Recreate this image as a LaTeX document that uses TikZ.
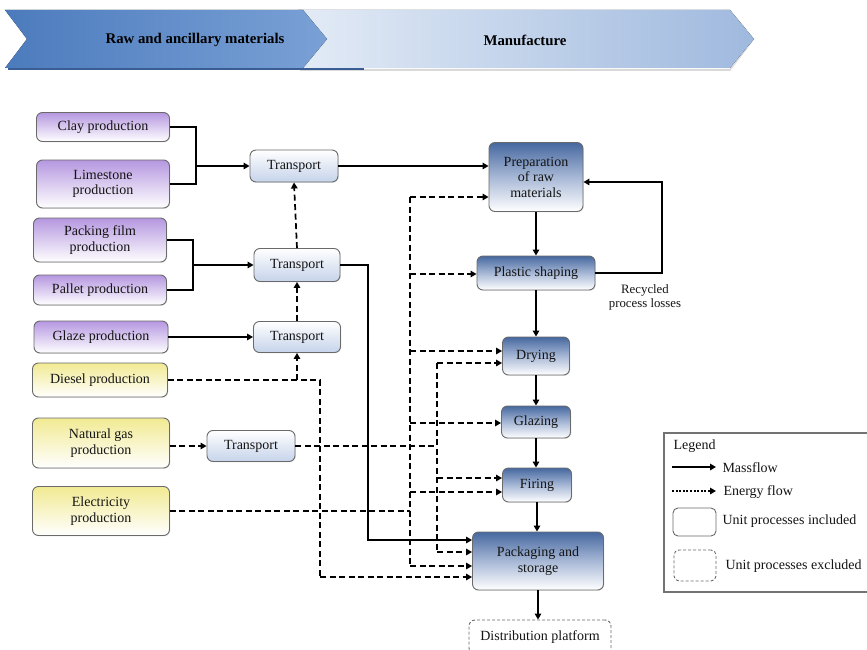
\documentclass[tikz,border=0pt]{standalone}
\usepackage{fontspec}
\setmainfont{Liberation Serif}
\usetikzlibrary{arrows.meta,shadows,calc}

\definecolor{hdrA}{HTML}{4C7BBD}
\definecolor{hdrB}{HTML}{7AA1D6}
\definecolor{hdrC}{HTML}{E3EBF6}
\definecolor{hdrD}{HTML}{9FB9DE}
\definecolor{hdrLine}{HTML}{3A5E94}
\definecolor{purpleTop}{HTML}{B597E0}
\definecolor{yellowTop}{HTML}{F1EA92}
\definecolor{transBot}{HTML}{C5D3EA}
\definecolor{procTop}{HTML}{46689F}
\definecolor{procMid}{HTML}{A7B8D6}
\definecolor{boxLine}{HTML}{6A6A6A}

\tikzset{
  lbl/.style={font=\fontsize{14}{15.5}\selectfont, text=black!92},
  box/.style={lbl, draw=boxLine, line width=0.9pt, rounded corners=6pt,
    align=center, inner sep=1pt,
    drop shadow={shadow xshift=0.8pt, shadow yshift=-0.8pt, fill=black!18}},
  rawbox/.style={box, top color=purpleTop, bottom color=white},
  fuelbox/.style={box, top color=yellowTop, bottom color=white},
  transbox/.style={box, top color=white, bottom color=transBot},
  procbox/.style={box, top color=procTop, bottom color=white, middle color=procMid},
  outbox/.style={lbl, draw=boxLine, line width=0.9pt, rounded corners=6pt,
    dashed, dash pattern=on 3pt off 2pt, align=center, inner sep=1pt},
  tip/.style={-{Triangle[length=6pt,width=6.5pt]}},
  massline/.style={line width=1.7pt, draw=black},
  massflow/.style={massline, tip},
  energyline/.style={line width=1.7pt, draw=black, dash pattern=on 6pt off 3.5pt},
  energyflow/.style={energyline, tip},
}

\begin{document}
\begin{tikzpicture}[x=1pt, y=-1pt]
\useasboundingbox (0,0) rectangle (867,650);

% ---- stage banner ----
\fill[black!15] (300,69) -- (730,69) -- (754,40) -- (730,71) -- (300,71) -- cycle;
\fill[left color=hdrC, right color=hdrD] (298,10) -- (730,10) -- (754,39) -- (730,68) -- (298,68) -- cycle;
\fill[left color=hdrA, right color=hdrB] (5,10) -- (303,10) -- (327,39) -- (303,68) -- (5,68) -- (27,39) -- cycle;
\draw[hdrLine, line width=2pt] (8,69) -- (364,69);
\node[font=\bfseries\fontsize{14.8}{16}\selectfont] (hraw) at (195,40) {Raw and ancillary materials};
\node[font=\bfseries\fontsize{14.8}{16}\selectfont] (hman) at (525,40) {Manufacture};

% ---- raw and ancillary materials ----
\node[rawbox, minimum width=133pt, minimum height=29pt] (clay) at (103,127) {Clay production};
\node[rawbox, minimum width=133pt, minimum height=48pt] (lime) at (103,184) {Limestone\\production};
\node[rawbox, minimum width=133pt, minimum height=44pt] (film) at (100,240) {Packing film\\production};
\node[rawbox, minimum width=133pt, minimum height=30pt] (pallet) at (100,290) {Pallet production};
\node[rawbox, minimum width=134pt, minimum height=32pt] (glaze) at (101,337) {Glaze production};
\node[fuelbox, minimum width=135pt, minimum height=34pt] (diesel) at (100,380) {Diesel production};
\node[fuelbox, minimum width=137pt, minimum height=50pt] (ngas) at (101,443) {Natural gas\\production};
\node[fuelbox, minimum width=137pt, minimum height=49pt] (elec) at (101,511) {Electricity\\production};

% ---- transport ----
\node[transbox, minimum width=88pt, minimum height=32pt] (t1) at (294,166) {Transport};
\node[transbox, minimum width=86pt, minimum height=33pt] (t2) at (297,265) {Transport};
\node[transbox, minimum width=87pt, minimum height=31pt] (t3) at (297,337) {Transport};
\node[transbox, minimum width=88pt, minimum height=31pt] (t4) at (251,446) {Transport};

% ---- manufacture ----
\node[procbox, minimum width=94pt, minimum height=69pt] (prep) at (536,177) {Preparation\\of raw\\materials};
\node[procbox, minimum width=118pt, minimum height=34pt] (shape) at (536,273) {Plastic shaping};
\node[procbox, minimum width=67pt, minimum height=38pt] (dry) at (536,356) {Drying};
\node[procbox, minimum width=69pt, minimum height=32pt] (glz) at (536,422) {Glazing};
\node[procbox, minimum width=69pt, minimum height=34pt] (fire) at (537,485) {Firing};
\node[procbox, minimum width=131pt, minimum height=58pt] (pack) at (538,561) {Packaging and\\storage};
\node[outbox, minimum width=142pt, minimum height=34pt] (dist) at (540,637) {Distribution platform};
\node[lbl, align=center, font=\fontsize{12.8}{14}\selectfont] (rec) at (645,297) {Recycled\\process losses};

% ---- mass flows ----
\coordinate (j1) at (196,166);
\coordinate (j2) at (193,265);
\draw[massline] (clay.east) -| (j1);
\draw[massline] (lime.east) -| (j1);
\draw[massflow] (j1) -- (t1.west);
\draw[massline] (film.east) -| (j2);
\draw[massline] (pallet.east) -| (j2);
\draw[massflow] (j2) -- (t2.west);
\draw[massflow] (glaze.east) -- (t3.west);
\draw[massflow] (t1.east) -- (t1.east -| prep.west);
\coordinate (m1) at (368,540);
\draw[massflow] (t2.east) -| (m1) -- (m1 -| pack.west);
\draw[massflow] (prep.south) -- (shape.north);
\draw[massflow] (shape.south) -- (dry.north);
\draw[massflow] (dry.south) -- (glz.north);
\draw[massflow] (glz.south) -- (glz.south |- fire.north);
\draw[massflow] (fire.south) -- (fire.south |- pack.north);
\draw[massflow] (pack.south) -- (pack.south |- dist.north);
\coordinate (r1) at (662,182);
\draw[massflow] (shape.east) -| (r1) -- (r1 -| prep.east);

% ---- energy flows: transport chain ----
\draw[energyflow] (t3.north) -- (t2.south);
\draw[energyflow] (t2.north) -- (t1.south);

% diesel
\coordinate (d1) at (320,380);
\coordinate (d2) at (320,577);
\coordinate (d0) at (t3.south |- d1);
\draw[energyline] (diesel.east) -- (d1) -- (d2);
\draw[energyflow] (d2) -- (d2 -| pack.west);
\draw[energyflow] (d0) -- (t3.south);

% natural gas
\coordinate (g0) at (ngas.east |- t4.west);
\draw[energyflow] (g0) -- (t4.west);
\coordinate (g1) at (437,446);
\coordinate (g2) at (437,363);
\coordinate (g3) at (437,478);
\coordinate (g4) at (437,552);
\draw[energyline] (t4.east) -- (g1);
\draw[energyline] (g2) -- (g4);
\draw[energyflow] (g2) -- (g2 -| dry.west);
\draw[energyflow] (g3) -- (g3 -| fire.west);
\draw[energyflow] (g4) -- (g4 -| pack.west);

% electricity
\coordinate (e0) at (elec.east);
\coordinate (e1) at (410,511);
\coordinate (e2) at (410,197);
\coordinate (e3) at (410,274);
\coordinate (e4) at (410,351);
\coordinate (e5) at (410,423);
\coordinate (e6) at (410,492);
\coordinate (e7) at (410,566);
\draw[energyline] (e0) -- (e1);
\draw[energyline] (e2) -- (e7);
\draw[energyflow] (e2) -- (e2 -| prep.west);
\draw[energyflow] (e3) -- (e3 -| shape.west);
\draw[energyflow] (e4) -- (e4 -| dry.west);
\draw[energyflow] (e5) -- (e5 -| glz.west);
\draw[energyflow] (e6) -- (e6 -| fire.west);
\draw[energyflow] (e7) -- (e7 -| pack.west);

% ---- legend ----
\draw[black!55, line width=2pt, fill=white] (664,433) rectangle (872,592);
\node[lbl, anchor=west] (lgTitle) at (670,446) {Legend};
\coordinate (lm0) at (672,467);
\coordinate (lm1) at (716,467);
\draw[massflow] (lm0) -- (lm1);
\node[lbl, anchor=west] (lgMass) at (719,468) {Massflow};
\coordinate (le0) at (672,491);
\coordinate (le1) at (716,491);
\draw[line width=1.7pt, dash pattern=on 2pt off 1.6pt, tip] (le0) -- (le1);
\node[lbl, anchor=west] (lgEnergy) at (720,492) {Energy flow};
\node[draw=boxLine, line width=0.9pt, rounded corners=5pt, minimum width=43pt, minimum height=28pt] (lgIn) at (694.5,522) {};
\node[lbl, anchor=west] (lgInT) at (719,521) {Unit processes included};
\node[draw=boxLine, line width=0.9pt, rounded corners=5pt, dashed, dash pattern=on 3pt off 2pt, minimum width=42pt, minimum height=31pt] (lgOut) at (695,565.5) {};
\node[lbl, anchor=west] (lgOutT) at (722,566) {Unit processes excluded};
\end{tikzpicture}
\end{document}
